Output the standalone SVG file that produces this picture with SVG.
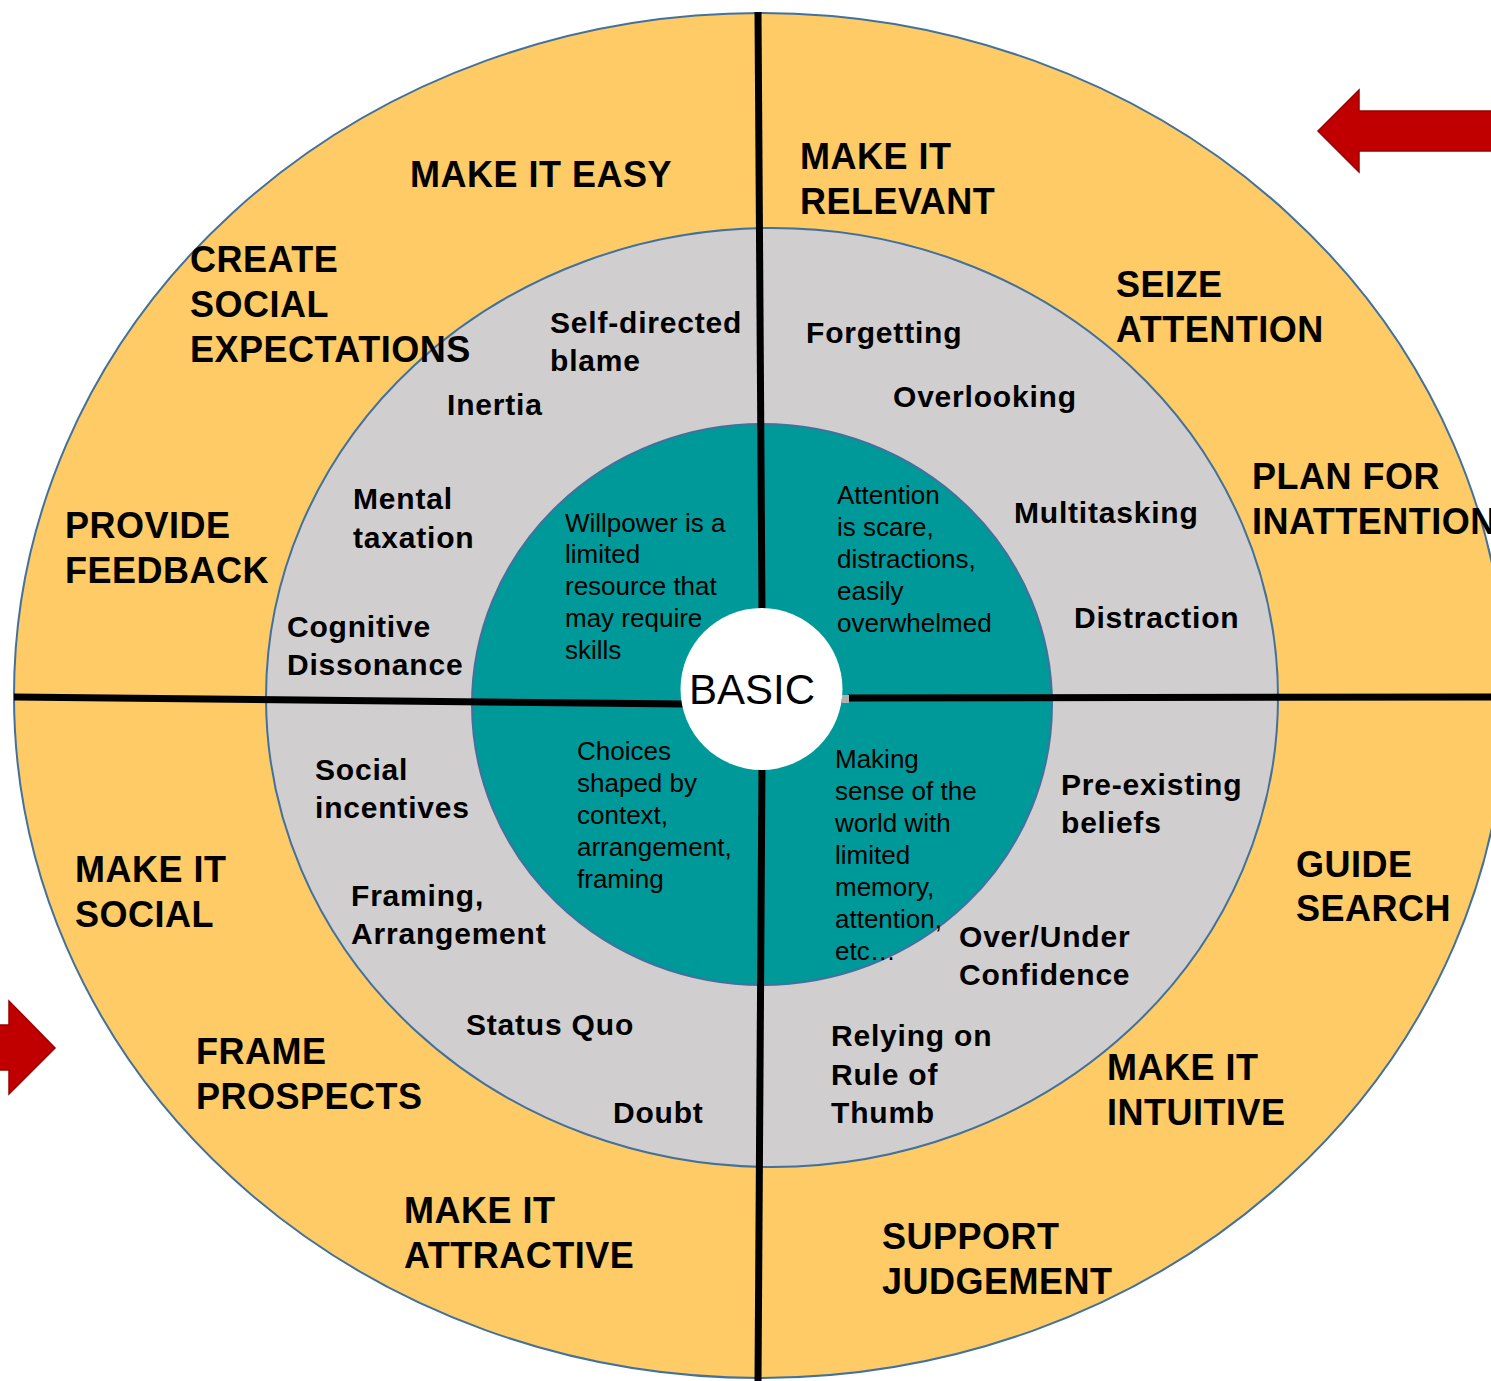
<svg xmlns="http://www.w3.org/2000/svg" width="1491" height="1381" viewBox="0 0 1491 1381">
  <style>
    text { font-family: "Liberation Sans", Arial, sans-serif; fill: #000; }
    .outer { font-size: 36px; font-weight: bold; letter-spacing: 0.5px; }
    .mid { font-size: 30px; font-weight: bold; letter-spacing: 0.8px; }
    .core { font-size: 26px; }
    .ring { stroke: #41719C; stroke-width: 2; }
    .divider { stroke: #000; stroke-width: 7; fill: none; }
    .arrow { fill: #C00000; stroke: #9A0000; stroke-width: 1.5; }
  </style>

  <rect width="1491" height="1381" fill="#FFFFFF"/>

  <!-- concentric rings -->
  <g id="rings">
    <ellipse id="ring-outer" class="ring" cx="760" cy="695.5" rx="746" ry="682.5" fill="#FECB66"/>
    <ellipse id="ring-middle" class="ring" cx="772" cy="697.5" rx="506" ry="469.5" fill="#D0CECE"/>
    <ellipse id="ring-core" class="ring" cx="762" cy="704.5" rx="290" ry="280.5" fill="#009999"/>
  </g>

  <!-- quadrant dividers -->
  <g id="connectors">
    <line class="divider" x1="758" y1="12" x2="762" y2="612"/>
    <line class="divider" x1="762" y1="766" x2="758" y2="1381"/>
    <line class="divider" x1="14" y1="697" x2="684" y2="704"/>
    <line class="divider" x1="848" y1="698" x2="1491" y2="697"/>
    <rect x="842" y="695" width="7" height="8" fill="#AFAFAF"/>
  </g>

  <!-- centre -->
  <g id="basic">
    <circle cx="761.5" cy="689" r="81" fill="#FFFFFF"/>
    <text x="752" y="704" font-size="42" text-anchor="middle">BASIC</text>
  </g>

  <!-- outer ring: strategies -->
  <g id="make-it-easy"><text class="outer" x="410" y="187">MAKE IT EASY</text></g>
  <g id="make-it-relevant">
    <text class="outer" x="800" y="169">MAKE IT</text>
    <text class="outer" x="800" y="214">RELEVANT</text>
  </g>
  <g id="create-social-expectations">
    <text class="outer" x="190" y="272">CREATE</text>
    <text class="outer" x="190" y="317">SOCIAL</text>
    <text class="outer" x="190" y="362">EXPECTATIONS</text>
  </g>
  <g id="seize-attention">
    <text class="outer" x="1116" y="297">SEIZE</text>
    <text class="outer" x="1116" y="342">ATTENTION</text>
  </g>
  <g id="plan-for-inattention">
    <text class="outer" x="1252" y="489">PLAN FOR</text>
    <text class="outer" x="1252" y="534">INATTENTION</text>
  </g>
  <g id="provide-feedback">
    <text class="outer" x="65" y="538">PROVIDE</text>
    <text class="outer" x="65" y="583">FEEDBACK</text>
  </g>
  <g id="make-it-social">
    <text class="outer" x="75" y="882">MAKE IT</text>
    <text class="outer" x="75" y="927">SOCIAL</text>
  </g>
  <g id="guide-search">
    <text class="outer" x="1296" y="877">GUIDE</text>
    <text class="outer" x="1296" y="921">SEARCH</text>
  </g>
  <g id="frame-prospects">
    <text class="outer" x="196" y="1064">FRAME</text>
    <text class="outer" x="196" y="1109">PROSPECTS</text>
  </g>
  <g id="make-it-intuitive">
    <text class="outer" x="1107" y="1080">MAKE IT</text>
    <text class="outer" x="1107" y="1125">INTUITIVE</text>
  </g>
  <g id="make-it-attractive">
    <text class="outer" x="404" y="1223">MAKE IT</text>
    <text class="outer" x="404" y="1268">ATTRACTIVE</text>
  </g>
  <g id="support-judgement">
    <text class="outer" x="882" y="1249">SUPPORT</text>
    <text class="outer" x="882" y="1294">JUDGEMENT</text>
  </g>

  <!-- middle ring: barriers -->
  <g id="self-directed-blame">
    <text class="mid" x="550" y="333">Self-directed</text>
    <text class="mid" x="550" y="371">blame</text>
  </g>
  <g id="inertia"><text class="mid" x="447" y="415">Inertia</text></g>
  <g id="forgetting"><text class="mid" x="806" y="343">Forgetting</text></g>
  <g id="overlooking"><text class="mid" x="893" y="407">Overlooking</text></g>
  <g id="mental-taxation">
    <text class="mid" x="353" y="509">Mental</text>
    <text class="mid" x="353" y="548">taxation</text>
  </g>
  <g id="cognitive-dissonance">
    <text class="mid" x="287" y="637">Cognitive</text>
    <text class="mid" x="287" y="675">Dissonance</text>
  </g>
  <g id="multitasking"><text class="mid" x="1014" y="523">Multitasking</text></g>
  <g id="distraction"><text class="mid" x="1074" y="628">Distraction</text></g>
  <g id="social-incentives">
    <text class="mid" x="315" y="780">Social</text>
    <text class="mid" x="315" y="818">incentives</text>
  </g>
  <g id="framing-arrangement">
    <text class="mid" x="351" y="906">Framing,</text>
    <text class="mid" x="351" y="944">Arrangement</text>
  </g>
  <g id="status-quo"><text class="mid" x="466" y="1035">Status Quo</text></g>
  <g id="doubt"><text class="mid" x="613" y="1123">Doubt</text></g>
  <g id="pre-existing-beliefs">
    <text class="mid" x="1061" y="795">Pre-existing</text>
    <text class="mid" x="1061" y="833">beliefs</text>
  </g>
  <g id="over-under-confidence">
    <text class="mid" x="959" y="947">Over/Under</text>
    <text class="mid" x="959" y="985">Confidence</text>
  </g>
  <g id="relying-on-rule-of-thumb">
    <text class="mid" x="831" y="1046">Relying on</text>
    <text class="mid" x="831" y="1085">Rule of</text>
    <text class="mid" x="831" y="1123">Thumb</text>
  </g>

  <!-- core: basic principles -->
  <g id="willpower">
    <text class="core" x="565" y="532">Willpower is a</text>
    <text class="core" x="565" y="563">limited</text>
    <text class="core" x="565" y="595">resource that</text>
    <text class="core" x="565" y="627">may require</text>
    <text class="core" x="565" y="659">skills</text>
  </g>
  <g id="attention">
    <text class="core" x="837" y="504">Attention</text>
    <text class="core" x="837" y="536">is scare,</text>
    <text class="core" x="837" y="568">distractions,</text>
    <text class="core" x="837" y="600">easily</text>
    <text class="core" x="837" y="632">overwhelmed</text>
  </g>
  <g id="choices">
    <text class="core" x="577" y="760">Choices</text>
    <text class="core" x="577" y="792">shaped by</text>
    <text class="core" x="577" y="824">context,</text>
    <text class="core" x="577" y="856">arrangement,</text>
    <text class="core" x="577" y="888">framing</text>
  </g>
  <g id="making-sense">
    <text class="core" x="835" y="768">Making</text>
    <text class="core" x="835" y="800">sense of the</text>
    <text class="core" x="835" y="832">world with</text>
    <text class="core" x="835" y="864">limited</text>
    <text class="core" x="835" y="896">memory,</text>
    <text class="core" x="835" y="928">attention,</text>
    <text class="core" x="835" y="960">etc…</text>
  </g>

  <!-- direction arrows -->
  <g id="arrow-right-top">
    <polygon class="arrow" points="1318,131 1359,90 1359,111 1492,111 1492,151 1359,151 1359,172"/>
  </g>
  <g id="arrow-left-bottom">
    <polygon class="arrow" points="55,1048 9,1001 9,1025 -2,1025 -2,1070 9,1070 9,1094"/>
  </g>
</svg>
